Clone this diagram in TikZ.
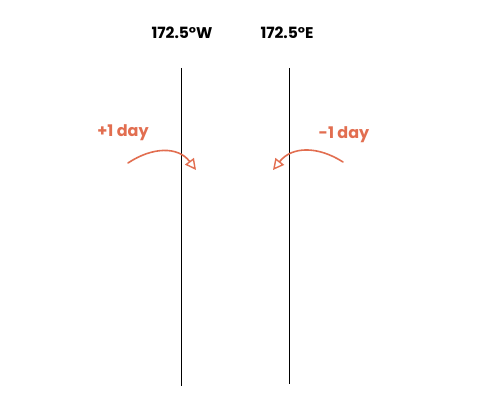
\documentclass[tikz,border=0pt]{standalone}
\usepackage{fontspec}
\setmainfont{Poppins}
\usetikzlibrary{arrows.meta}
\definecolor{arr}{RGB}{226,110,80}
\tikzset{
  meridian/.style={draw=black, line width=0.8pt},
  hdr/.style={font=\bfseries\fontsize{15.5}{18}\selectfont, text=black, inner sep=0pt},
  daylbl/.style={font=\bfseries\fontsize{16}{18}\selectfont, text=arr, inner sep=0pt},
  dayarrow/.style={draw=arr, line width=1.6pt, line cap=round, -{Triangle[open, length=11pt, width=11pt, line width=1.4pt]}}
}
\begin{document}
\begin{tikzpicture}[x=1pt,y=-1pt]
\useasboundingbox (0,0) rectangle (498,406);
\fill[white] (0,0) rectangle (498,406);
% meridians
\coordinate (wtop) at (181,68);
\coordinate (wbot) at (181,386);
\coordinate (etop) at (289,68);
\coordinate (ebot) at (289,384);
\draw[meridian] (wtop) -- (wbot);
\draw[meridian] (etop) -- (ebot);
% headers
\node[hdr] (hw) at (182,33) {172.5°W};
\node[hdr] (he) at (287,33) {172.5°E};
% day labels
\node[daylbl] (lp) at (123,133) {+1 day};
\node[daylbl] (lm) at (344,135) {-1 day};
% arrows
\coordinate (ls) at (128,163);
\coordinate (le) at (196,170);
\coordinate (rs) at (343,162);
\coordinate (re) at (273,170);
\draw[dayarrow] (ls) .. controls (152,147) and (178,146) .. (le);
\draw[dayarrow] (rs) .. controls (318,146) and (292,146) .. (re);
\end{tikzpicture}
\end{document}
